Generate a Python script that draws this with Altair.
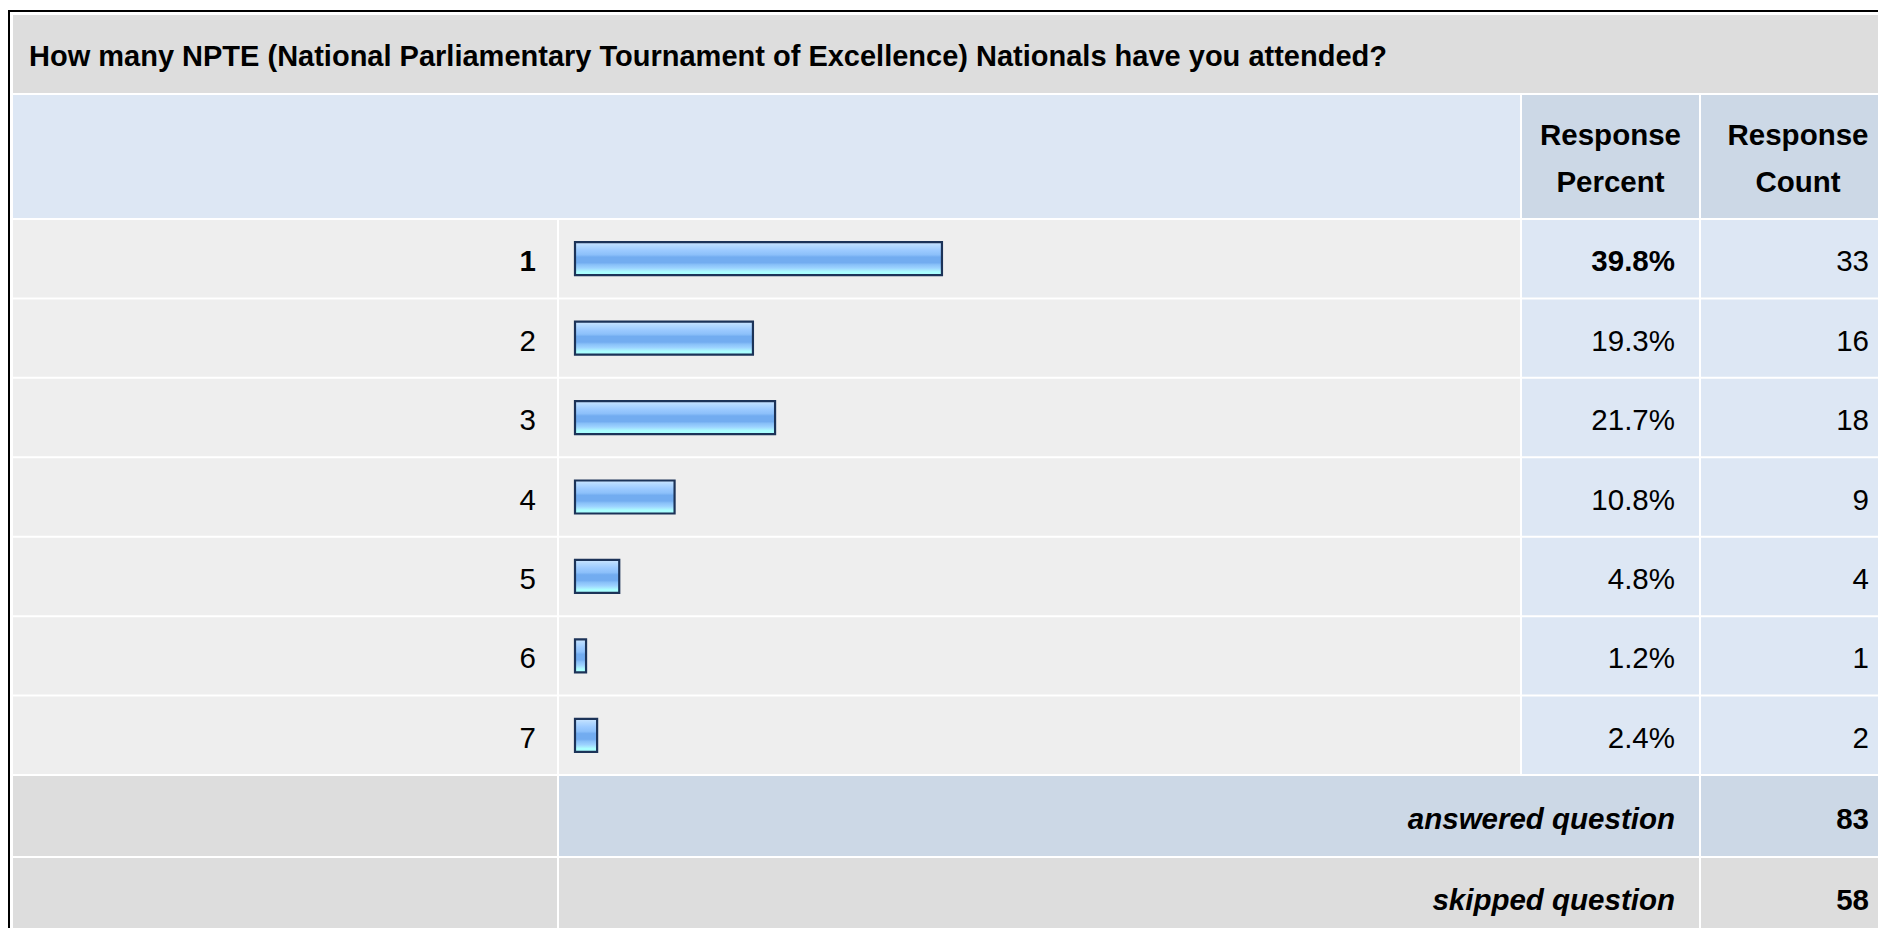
import altair as alt
import pandas as pd

# ---- data ----
options = ["1", "2", "3", "4", "5", "6", "7"]
percents = [39.8, 19.3, 21.7, 10.8, 4.8, 1.2, 2.4]
counts = [33, 16, 18, 9, 4, 1, 2]
title_text = "How many NPTE (National Parliamentary Tournament of Excellence) Nationals have you attended?"
column_headers = ["Response Percent", "Response Count"]
summary_labels = ["answered question", "skipped question"]
summary_counts = [83, 58]

# ---- layout ----
W, H = 1870, 920
FONT = "Liberation Sans"
FS = 29.5
DY = 3.5

C_TITLE = "#dddddd"
C_HEAD = "#dde7f4"
C_HEAD_DARK = "#ccd8e6"
C_ROW = "#eeeeee"
C_ROW_BLUE = "#dde7f4"
C_GRAY = "#dddddd"

rows = pd.DataFrame({"option": options, "pct": percents, "count": counts})
one = pd.DataFrame({"k": [0]})

yscale = alt.Scale(type="band", domain=options, range=[211, 767],
                   paddingInner=0.0252, paddingOuter=0.0126)
Y = alt.Y("option:N", scale=yscale, axis=None)


def box(x0, x1, y0, y1, color):
    return alt.Chart(one).mark_rect(color=color).encode(
        x=alt.value(x0), x2=alt.value(x1), y=alt.value(y0), y2=alt.value(y1))


def row_cell(x0, x1, color):
    return alt.Chart(rows).mark_rect(color=color).encode(
        x=alt.value(x0), x2=alt.value(x1), y=Y)


def label(text, x, y, align, weight="normal", style="normal", baseline="middle", dy=DY, size=FS, **kw):
    return alt.Chart(one).mark_text(
        text=text, align=align, baseline=baseline, dy=dy, font=FONT, fontSize=size,
        fontWeight=weight, fontStyle=style, color="black", **kw
    ).encode(x=alt.value(x), y=alt.value(y))


layers = []

# frame (left and top black border)
layers.append(alt.Chart(one).mark_rule(color="black", strokeWidth=2).encode(
    x=alt.value(1), y=alt.value(2), y2=alt.value(H)))
layers.append(alt.Chart(one).mark_rule(color="black", strokeWidth=2).encode(
    x=alt.value(0), x2=alt.value(W), y=alt.value(3)))

# title band
layers.append(box(5, W, 7, 85, C_TITLE))
layers.append(label(title_text, 21, 58, "left", weight="bold", baseline="alphabetic", dy=0, size=29))

# header band
layers.append(box(5, 1512, 87, 210, C_HEAD))
layers.append(box(1514, 1691, 87, 210, C_HEAD_DARK))
layers.append(box(1693, W, 87, 210, C_HEAD_DARK))
layers.append(label(column_headers[0], 1602.5, 137, "center", weight="bold",
                    baseline="alphabetic", dy=0, lineBreak=" ", lineHeight=46.5))
layers.append(label(column_headers[1], 1790, 137, "center", weight="bold",
                    baseline="alphabetic", dy=0, lineBreak=" ", lineHeight=46.5))

# data row cells
layers.append(row_cell(5, 549, C_ROW))
layers.append(row_cell(551, 1512, C_ROW))
layers.append(row_cell(1514, 1691, C_ROW_BLUE))
layers.append(row_cell(1693, W, C_ROW_BLUE))

# bars
gradient = alt.Gradient(
    gradient="linear", x1=0, x2=0, y1=0, y2=1,
    stops=[
        alt.GradientStop(color="#cce6ff", offset=0.0),
        alt.GradientStop(color="#b2d8ff", offset=0.12),
        alt.GradientStop(color="#9ccaff", offset=0.25),
        alt.GradientStop(color="#8cc0fa", offset=0.38),
        alt.GradientStop(color="#72acf0", offset=0.45),
        alt.GradientStop(color="#72acf0", offset=0.62),
        alt.GradientStop(color="#88c0f8", offset=0.68),
        alt.GradientStop(color="#9cd2ff", offset=0.78),
        alt.GradientStop(color="#a8eaff", offset=0.85),
        alt.GradientStop(color="#aaffff", offset=0.9),
        alt.GradientStop(color="#aaffff", offset=1.0),
    ],
)
layers.append(alt.Chart(rows).mark_bar(
    size=33, fill=gradient, stroke="#1c3358", strokeWidth=2.2
).encode(
    x=alt.X("pct:Q", scale=alt.Scale(domain=[0, 100], range=[567, 1489]), axis=None),
    y=Y,
))

# row texts
top = alt.Chart(rows).transform_joinaggregate(top="max(pct)").transform_calculate(
    pct_label="format(datum.pct, '.1f') + '%'")
reg = top.transform_filter("datum.pct != datum.top")
bold = top.transform_filter("datum.pct == datum.top")

txt = dict(baseline="middle", dy=DY, font=FONT, fontSize=FS, color="black")
layers.append(reg.mark_text(align="right", **txt).encode(
    x=alt.value(528), y=Y, text="option:N"))
layers.append(bold.mark_text(align="right", fontWeight="bold", **txt).encode(
    x=alt.value(528), y=Y, text="option:N"))
layers.append(reg.mark_text(align="right", **txt).encode(
    x=alt.value(1667), y=Y, text="pct_label:N"))
layers.append(bold.mark_text(align="right", fontWeight="bold", **txt).encode(
    x=alt.value(1667), y=Y, text="pct_label:N"))
layers.append(top.mark_text(align="right", **txt).encode(
    x=alt.value(1861), y=Y, text="count:Q"))

# summary rows
layers.append(box(5, 549, 768, 848, C_GRAY))
layers.append(box(551, 1691, 768, 848, C_HEAD_DARK))
layers.append(box(1693, W, 768, 848, C_HEAD_DARK))
layers.append(box(5, 549, 850, H, C_GRAY))
layers.append(box(551, 1691, 850, H, C_GRAY))
layers.append(box(1693, W, 850, H, C_GRAY))

layers.append(label(summary_labels[0], 1667, 808, "right", weight="bold", style="italic"))
layers.append(label(str(summary_counts[0]), 1861, 808, "right", weight="bold"))
layers.append(label(summary_labels[1], 1667, 889, "right", weight="bold", style="italic"))
layers.append(label(str(summary_counts[1]), 1861, 889, "right", weight="bold"))

chart = alt.layer(*layers).properties(
    width=W, height=H, padding=0,
    autosize=alt.AutoSizeParams(type="none"),
    background="white",
).configure_view(stroke=None)

chart.save("out.html", embed_options={"renderer": "svg", "actions": False})
